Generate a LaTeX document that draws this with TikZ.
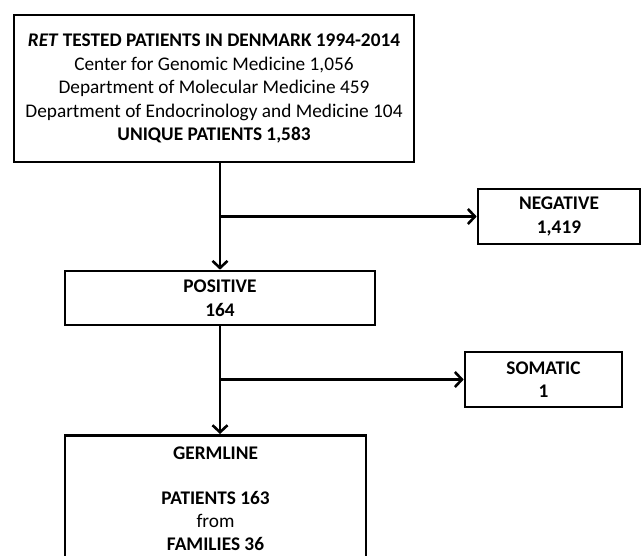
\documentclass[tikz,border=0pt]{standalone}
\usepackage{fontspec}
\setmainfont{Carlito}
\usetikzlibrary{arrows.meta}
\tikzset{Box/.style={draw,line width=2.6pt,rectangle,align=center,inner sep=0pt,
    font=\fontsize{19.3}{23.5}\selectfont}}
\begin{document}
\begin{tikzpicture}[x=1pt,y=-1pt]
    \useasboundingbox (0,0) rectangle (641,556);
    \clip (0,0) rectangle (641,556);
    \node[Box,minimum width=400,minimum height=147] (Tot) at (214,88.5)
      {\textbf{\textit{RET}} \textbf{TESTED PATIENTS IN DENMARK 1994-2014}\\
       Center for Genomic Medicine 1,056\\
       Department of Molecular Medicine 459\\
       Department of Endocrinology and Medicine 104\\
       \textbf{UNIQUE PATIENTS 1,583}};
    \node[Box,minimum width=310,minimum height=54] (Pos) at (220,298)
      {\textbf{POSITIVE}\\ \textbf{164}};
    \node[Box,minimum width=162,minimum height=55] (Neg) at (559,216.5)
      {\textbf{NEGATIVE}\\ \textbf{1,419}};
    \node[Box,minimum width=157,minimum height=55] (Som) at (543.5,379.5)
      {\textbf{SOMATIC}\\ \textbf{1}};
    \node[Box,minimum width=301,minimum height=126,anchor=north,
      font=\fontsize{19.3}{23}\selectfont] (Germ) at (215.5,434)
      {\textbf{GERMLINE}\\[22pt] \textbf{PATIENTS 163}\\ from\\ \textbf{FAMILIES 36}};
    \coordinate (B1) at (220,216.5);
    \coordinate (B2) at (220,379.5);
    \begin{scope}[line width=2.6pt,-{Straight Barb[length=7pt,width=15pt]}]
      \draw (Tot.south -| Pos.north) -- (Pos.north);
      \draw (B1) -- (Neg.west);
      \draw (Pos.south) -- (Pos.south |- Germ.north);
      \draw (B2) -- (Som.west);
    \end{scope}
  \end{tikzpicture}
\end{document}
